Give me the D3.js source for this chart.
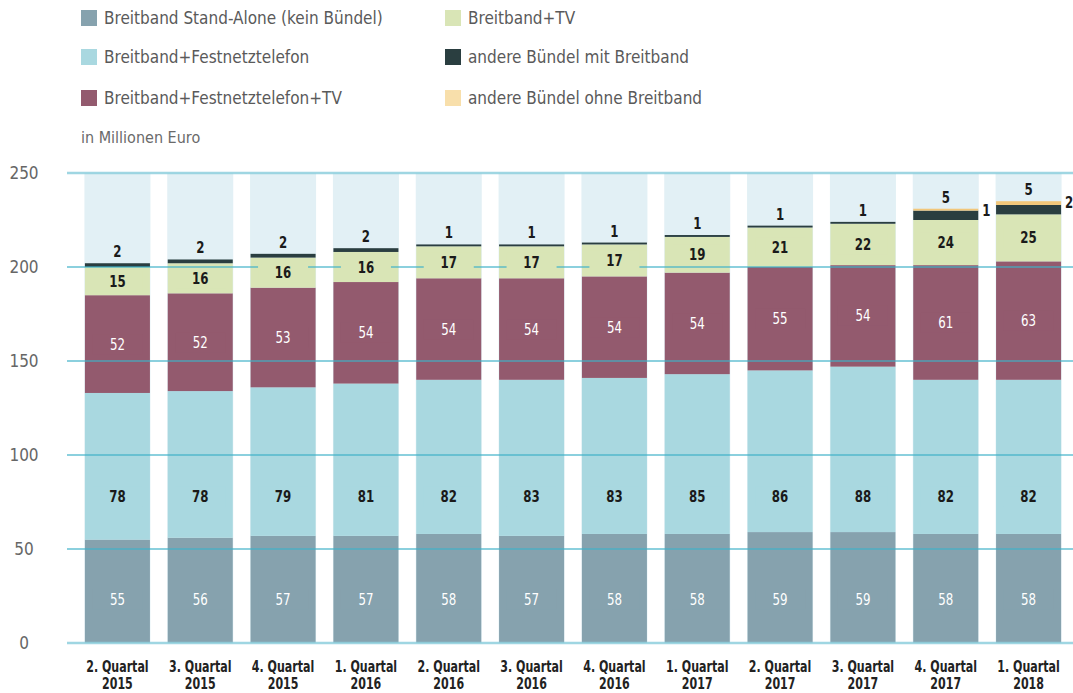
<!DOCTYPE html>
<html>
<head>
<meta charset="utf-8">
<script src="https://cdn.jsdelivr.net/npm/d3@7"></script>
<style>
  body { margin: 0; background: #fff; }
  svg { display: block; font-family: "DejaVu Sans Condensed", "Liberation Sans", sans-serif; }
</style>
</head>
<body>
<div id="chart"></div>
<script>
// Data
const quarters = ['2. Quartal 2015', '3. Quartal 2015', '4. Quartal 2015', '1. Quartal 2016',
    '2. Quartal 2016', '3. Quartal 2016', '4. Quartal 2016', '1. Quartal 2017',
    '2. Quartal 2017', '3. Quartal 2017', '4. Quartal 2017', '1. Quartal 2018'];
const standAlone   = [55, 56, 57, 57, 58, 57, 58, 58, 59, 59, 58, 58];
const festnetz     = [78, 78, 79, 81, 82, 83, 83, 85, 86, 88, 82, 82];
const festnetzTv   = [52, 52, 53, 54, 54, 54, 54, 54, 55, 54, 61, 63];
const breitbandTv  = [15, 16, 16, 16, 17, 17, 17, 19, 21, 22, 24, 25];
const andereMit    = [2, 2, 2, 2, 1, 1, 1, 1, 1, 1, 5, 5];
const andereOhne   = [0, 0, 0, 0, 0, 0, 0, 0, 0, 0, 1, 2];
const yTicks = [0, 50, 100, 150, 200, 250];

const seriesNames = ['Breitband Stand-Alone (kein Bündel)', 'Breitband+Festnetztelefon',
    'Breitband+Festnetztelefon+TV', 'Breitband+TV', 'andere Bündel mit Breitband',
    'andere Bündel ohne Breitband'];
const seriesValues = [standAlone, festnetz, festnetzTv, breitbandTv, andereMit, andereOhne];
const colors = ['#86a2ae', '#a9d8e0', '#935a6e', '#d9e5b6', '#2a3e40', '#f2c77a'];
const legendColors = ['#86a2ae', '#a9d8e0', '#935a6e', '#d9e5b6', '#2a3e40', '#f8dfab'];
const textColors = ['#fff', '#1a1a1a', '#fff', '#1a1a1a'];

const chart_width = 1073;
const chart_height = 693;
const squeeze = 0.82; // condensed look for the small labels

// rows for the stack
const rows = quarters.map((q, i) => {
    const row = { quarter: q };
    seriesNames.forEach((s, k) => row[s] = seriesValues[k][i]);
    return row;
});
const stack_data = d3.stack().keys(seriesNames)(rows);

// Scales
const x_scale = d3.scaleBand()
    .domain(quarters)
    .range([76, 1070])
    .paddingInner(0.215)
    .paddingOuter(0.1075);

const y_scale = d3.scaleLinear()
    .domain([0, 250])
    .range([643, 173]);

const svg = d3.select('#chart')
    .append('svg')
    .attr('width', chart_width)
    .attr('height', chart_height);

const mid = q => x_scale(q) + x_scale.bandwidth() / 2;

// column backgrounds
svg.append('g')
    .selectAll('rect')
    .data(quarters)
    .enter()
    .append('rect')
    .attr('x', d => x_scale(d) - 0.5)
    .attr('width', x_scale.bandwidth() + 1)
    .attr('y', y_scale(250))
    .attr('height', y_scale(0) - y_scale(250))
    .attr('fill', '#e2f0f5');

// stacked bars
const groups = svg.selectAll('g.series')
    .data(stack_data)
    .enter()
    .append('g')
    .attr('class', 'series')
    .attr('fill', (d, i) => colors[i]);

groups.selectAll('rect')
    .data(d => d)
    .enter()
    .append('rect')
    .attr('x', d => x_scale(d.data.quarter))
    .attr('y', d => y_scale(d[1]))
    .attr('height', d => y_scale(d[0]) - y_scale(d[1]))
    .attr('width', x_scale.bandwidth());

// gridlines, drawn over the bars
svg.append('g')
    .selectAll('line')
    .data(yTicks)
    .enter()
    .append('line')
    .attr('x1', 67)
    .attr('x2', chart_width)
    .attr('y1', d => y_scale(d))
    .attr('y2', d => y_scale(d))
    .attr('stroke', d => (d === 0 || d === 250) ? '#8fd0de' : '#3fb2c9')
    .attr('stroke-width', d => (d === 0 || d === 250) ? 2.5 : 1.3)
    .attr('opacity', d => (d === 0 || d === 250) ? 0.85 : 0.8);

// y tick labels
svg.append('g')
    .selectAll('text')
    .data(yTicks)
    .enter()
    .append('text')
    .attr('x', 24)
    .attr('y', d => y_scale(d) + 6)
    .attr('text-anchor', 'middle')
    .attr('font-size', 17)
    .attr('fill', '#666')
    .text(d => d);

// labels inside the four big segments
// the two lowest series keep their labels at a fixed level
const labelLevel = [23, 78];
const labelY = (d, k) => k < 2 ? y_scale(labelLevel[k]) : y_scale((d[0] + d[1]) / 2);

stack_data.slice(0, 4).forEach((series, k) => {
    const g = svg.append('g');
    g.selectAll('rect')
        .data(series)
        .enter()
        .append('rect')
        .attr('x', d => mid(d.data.quarter) - 25)
        .attr('y', d => labelY(d, k) - 10)
        .attr('width', 50)
        .attr('height', 20)
        .attr('fill', colors[k]);
    g.selectAll('text')
        .data(series)
        .enter()
        .append('text')
        .attr('transform', d => `translate(${mid(d.data.quarter)},${labelY(d, k) + 5.5}) scale(${squeeze},1)`)
        .attr('text-anchor', 'middle')
        .attr('font-size', 16)
        .attr('font-weight', k === 1 || k === 3 ? 'bold' : 'normal')
        .attr('fill', textColors[k])
        .text(d => d[1] - d[0]);
});

// "andere Bündel mit Breitband" above the bar
const top_series = stack_data[5];
svg.append('g')
    .selectAll('text')
    .data(stack_data[4])
    .enter()
    .append('text')
    .attr('transform', (d, i) => `translate(${mid(d.data.quarter)},${y_scale(top_series[i][1]) - 6}) scale(${squeeze},1)`)
    .attr('text-anchor', 'middle')
    .attr('font-size', 16)
    .attr('font-weight', 'bold')
    .attr('fill', '#1a1a1a')
    .text(d => d[1] - d[0]);

// "andere Bündel ohne Breitband" to the right of the bar
svg.append('g')
    .selectAll('text')
    .data(top_series.filter(d => d[1] - d[0] > 0))
    .enter()
    .append('text')
    .attr('transform', d => `translate(${x_scale(d.data.quarter) + x_scale.bandwidth() + 4},${y_scale(d[1]) + 7}) scale(${squeeze},1)`)
    .attr('font-size', 16)
    .attr('font-weight', 'bold')
    .attr('fill', '#1a1a1a')
    .text(d => d[1] - d[0]);

// x labels, two lines each
const xAxis = svg.append('g');
[[d => d.slice(0, d.lastIndexOf(' ')), 672], [d => d.slice(d.lastIndexOf(' ') + 1), 689]]
    .forEach(([part, yPos]) => {
        xAxis.append('g')
            .selectAll('text')
            .data(quarters)
            .enter()
            .append('text')
            .attr('transform', d => `translate(${mid(d)},${yPos}) scale(${squeeze},1)`)
            .attr('text-anchor', 'middle')
            .attr('font-size', 15)
            .attr('font-weight', 'bold')
            .attr('fill', '#222')
            .text(part);
    });

// Legend
const legend = svg.append('g')
    .selectAll('g')
    .data(seriesNames)
    .enter()
    .append('g')
    .attr('transform', (d, i) => `translate(${i < 3 ? 81 : 445},${[10, 49, 90][i % 3]})`);
legend.append('rect')
    .attr('width', 16)
    .attr('height', 16)
    .attr('fill', (d, i) => legendColors[i]);
legend.append('text')
    .attr('x', 23)
    .attr('y', 14)
    .attr('font-size', 17)
    .attr('fill', '#5a5a5a')
    .text(d => d);

svg.append('text')
    .attr('x', 81)
    .attr('y', 143)
    .attr('font-size', 16)
    .attr('fill', '#6a6a6a')
    .text('in Millionen Euro');
</script>
</body>
</html>
